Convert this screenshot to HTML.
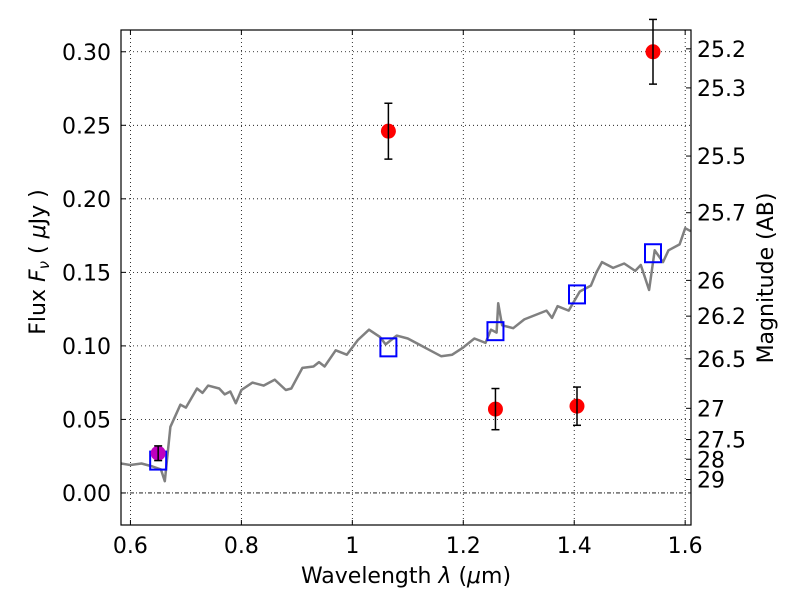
<!DOCTYPE html>
<html><head><meta charset="utf-8"><style>
body{margin:0;background:#fff}
svg text{font-family:"DejaVu Sans","Liberation Sans",sans-serif;fill:#000}
</style></head><body>
<svg id="chart" width="800" height="600" viewBox="0 0 800 600">
<rect width="800" height="600" fill="#fff"/>
<g id="grid"></g>
<g id="plot"></g>
<rect x="121" y="30" width="570" height="495" fill="none" stroke="#000" stroke-width="1.2"/>
<g id="axes"></g>
<text x="406" y="583" font-size="22" text-anchor="middle">Wavelength  <tspan font-style="italic">λ</tspan> (<tspan font-style="italic">μ</tspan>m)</text>
<text transform="translate(45,262) rotate(-90)" font-size="22" text-anchor="middle">Flux  <tspan font-style="italic">F<tspan font-size="15" dy="4">ν</tspan></tspan><tspan dy="-4">  ( </tspan><tspan font-style="italic">μ</tspan>Jy )</text>
<text transform="translate(773,278) rotate(-90)" font-size="22" text-anchor="middle">Magnitude (AB)</text>
</svg>
<script>
const specX=[0.583,0.60,0.62,0.64,0.655,0.662,0.672,0.69,0.70,0.72,0.73,0.74,0.76,0.77,0.78,0.79,0.80,0.82,0.84,0.86,0.88,0.89,0.91,0.93,0.94,0.95,0.97,0.99,1.01,1.03,1.05,1.06,1.08,1.10,1.12,1.14,1.16,1.18,1.20,1.22,1.24,1.25,1.26,1.263,1.27,1.29,1.31,1.33,1.35,1.36,1.37,1.39,1.41,1.43,1.44,1.45,1.47,1.49,1.51,1.52,1.535,1.545,1.56,1.57,1.59,1.60,1.61];
const specY=[0.020,0.019,0.020,0.018,0.016,0.008,0.045,0.060,0.058,0.071,0.068,0.073,0.071,0.067,0.069,0.061,0.070,0.075,0.073,0.077,0.070,0.071,0.085,0.086,0.089,0.086,0.097,0.094,0.104,0.111,0.106,0.101,0.107,0.105,0.101,0.097,0.093,0.094,0.099,0.105,0.102,0.111,0.109,0.129,0.114,0.112,0.118,0.121,0.124,0.119,0.127,0.124,0.137,0.141,0.150,0.157,0.153,0.156,0.151,0.155,0.138,0.165,0.157,0.165,0.169,0.180,0.178];
const obsX=[1.065,1.258,1.405,1.542];
const obsY=[0.246,0.057,0.059,0.300];
const obsErr=[0.019,0.014,0.013,0.022];
const magX=[0.65];
const magY=[0.027];
const magErr=[0.005];
const modX=[0.65,1.065,1.258,1.405,1.542];
const modY=[0.022,0.099,0.110,0.135,0.163];
const xTicks=[0.6,0.8,1.0,1.2,1.4,1.6];
const xTickLabels=["0.6","0.8","1","1.2","1.4","1.6"];
const yTicks=[0,0.05,0.10,0.15,0.20,0.25,0.30];
const yTickLabels=["0.00","0.05","0.10","0.15","0.20","0.25","0.30"];
const magTicks=[25.2,25.3,25.5,25.7,26,26.2,26.5,27,27.5,28,29];

const NS="http://www.w3.org/2000/svg";
const X0=121,X1=691,Y0=525,Y1=30;
const xmin=0.583,xmax=1.6105,ymin=-0.0218,ymax=0.3148;
const sx=v=>X0+(v-xmin)/(xmax-xmin)*(X1-X0);
const sy=v=>Y0-(v-ymin)/(ymax-ymin)*(Y0-Y1);
function mk(tag,attrs,parent){const e=document.createElementNS(NS,tag);for(const k in attrs)e.setAttribute(k,attrs[k]);parent.appendChild(e);return e;}
const grid=document.getElementById('grid'),plot=document.getElementById('plot'),axes=document.getElementById('axes');

xTicks.forEach((t,i)=>{
 const x=sx(t);
 const g=mk('line',{x1:x,x2:x,y1:Y1,y2:Y0,stroke:'#000','stroke-width':0.8,'stroke-dasharray':'1,3'},grid);
 
 
 mk('line',{x1:x,x2:x,y1:Y0,y2:Y0-5,stroke:'#000'},axes);
 mk('line',{x1:x,x2:x,y1:Y1,y2:Y1+5,stroke:'#000'},axes);
 const tx=mk('text',{x:x,y:Y0+28,'font-size':22,'text-anchor':'middle'},axes);
 tx.textContent=xTickLabels[i];
 
 
});
yTicks.forEach((t,i)=>{
 const y=sy(t);
 const g=mk('line',{x1:X0,x2:X1,y1:y,y2:y,stroke:'#000','stroke-width':0.8,'stroke-dasharray':t===0?'4,2,1,2':'1,3'},grid);
 
 
 mk('line',{x1:X0,x2:X0+5,y1:y,y2:y,stroke:'#000'},axes);
 const tx=mk('text',{x:X0-10,y:y+8,'font-size':22,'text-anchor':'end'},axes);
 tx.textContent=yTickLabels[i];
 
 
});
magTicks.forEach(m=>{
 const f=Math.pow(10,(23.9-m)/2.5);
 const y=sy(f);
 mk('line',{x1:X1-5,x2:X1,y1:y,y2:y,stroke:'#000'},axes);
 const tx=mk('text',{x:X1+6,y:y+8,'font-size':22},axes);
 tx.textContent=String(m);
 
 
});

const pth=mk('path',{d:specX.map((v,i)=>(i?'L':'M')+sx(v).toFixed(1)+','+sy(specY[i]).toFixed(1)).join(''),fill:'none',stroke:'#808080','stroke-width':2.5,'stroke-linejoin':'round'},plot);



modX.forEach((v,i)=>{
 const r=mk('rect',{x:sx(v)-8,y:sy(modY[i])-9,width:16,height:18,fill:'none',stroke:'#0000ff','stroke-width':2},plot);
 
 
});
function errPt(xs,ys,es,color,name){
 xs.forEach((v,i)=>{
  const x=sx(v),yt=sy(ys[i]+es[i]),yb=sy(ys[i]-es[i]);
  const g=mk('g',{},plot);
  
  
  mk('circle',{cx:x,cy:sy(ys[i]),r:7.5,fill:color},g);
  mk('line',{x1:x,x2:x,y1:yt,y2:yb,stroke:'#000','stroke-width':1.5},g);
  mk('line',{x1:x-4,x2:x+4,y1:yt,y2:yt,stroke:'#000','stroke-width':1.5},g);
  mk('line',{x1:x-4,x2:x+4,y1:yb,y2:yb,stroke:'#000','stroke-width':1.5},g);
 });
}
errPt(obsX,obsY,obsErr,'#ff0000','observed-point');
errPt(magX,magY,magErr,'#bf00bf','observed-point-magenta');
</script>
</body></html>
